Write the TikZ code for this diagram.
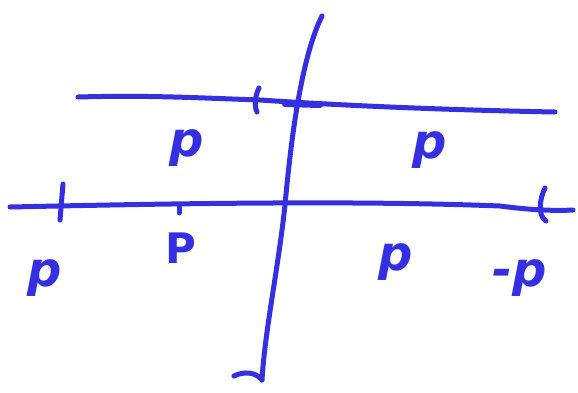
\documentclass[tikz,border=0pt]{standalone}
\usepackage{fontspec}
\setmainfont{DejaVu Sans}
\definecolor{pen}{RGB}{52,48,225}
\begin{document}
\begin{tikzpicture}[x=1pt,y=-1pt,
  stroke/.style={draw=pen,line width=5pt,line cap=round,line join=round},
  lbl/.style={text=pen,font=\fontsize{48}{50}\selectfont\bfseries\itshape,inner sep=0pt}]
\useasboundingbox (0,0) rectangle (578,392);
% vertical axis
\draw[stroke] (322,16) .. controls (300,60) and (290,150) .. (285,205)
  .. controls (278,270) and (265,330) .. (262,380);
\draw[stroke] (234,376) .. controls (244,371) and (256,372) .. (262,380);
% upper line
\draw[stroke] (78,97) .. controls (150,95) and (200,98) .. (260,100)
  .. controls (350,106) and (450,110) .. (555,112);
\draw[stroke,line width=6pt] (285,104) -- (320,105);
\draw[stroke] (259,88) .. controls (255,96) and (254,106) .. (257,112);
% lower line
\draw[stroke] (10,207) .. controls (150,204) and (350,200) .. (500,206)
  .. controls (530,210) and (555,211) .. (573,210);
\draw[stroke] (63,184) -- (60,220);
\draw[stroke] (179,207) -- (179,213);
\draw[stroke] (545,188) .. controls (540,198) and (537,215) .. (546,221);
% labels
\node[lbl] (pul) at (187,148) {p};
\node[lbl] (pur) at (430,150) {p};
\node[lbl,font=\fontsize{42}{44}\selectfont\bfseries] (pm) at (181,248) {P};
\node[lbl] (pl) at (45,278) {p};
\node[lbl] (pr) at (396,262) {p};
\node[lbl] (pn) at (520,278) {-p};
\end{tikzpicture}
\end{document}
